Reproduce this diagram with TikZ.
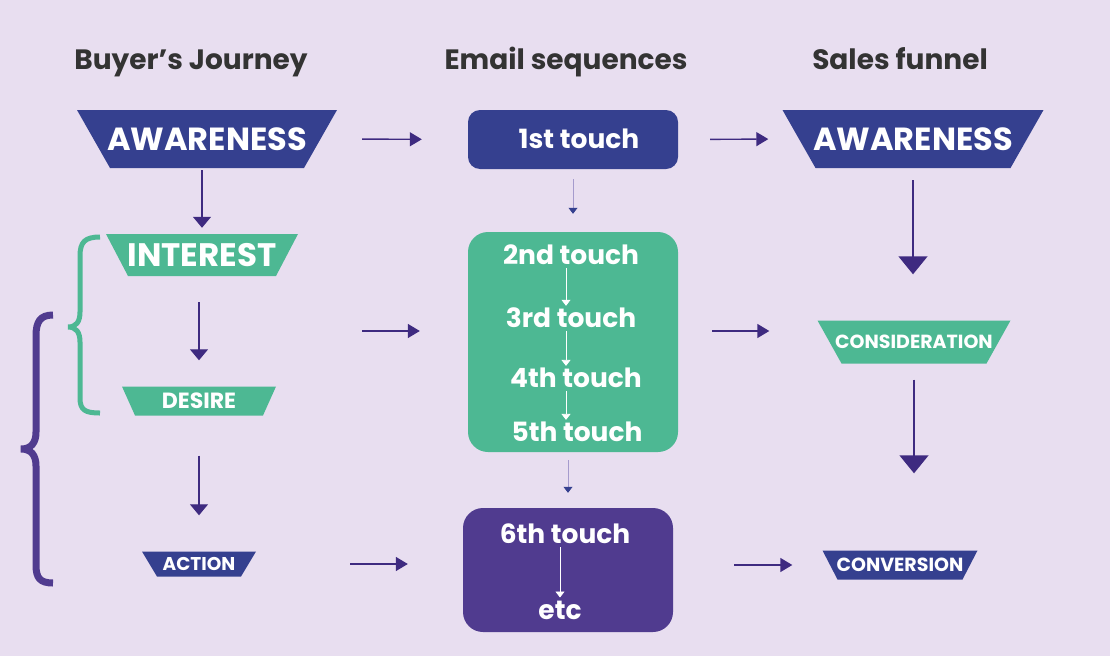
\documentclass[tikz,border=0pt]{standalone}
\usepackage{fontspec}
\setmainfont{Poppins}
\usetikzlibrary{arrows.meta,positioning,calc}

\definecolor{bgpurple}{RGB}{232,222,240}
\definecolor{navy}{RGB}{53,64,143}
\definecolor{mint}{RGB}{77,184,147}
\definecolor{grape}{RGB}{80,59,143}
\definecolor{arrowpurple}{RGB}{62,42,128}
\definecolor{headgray}{RGB}{51,51,51}
\definecolor{thinline}{RGB}{165,155,205}

\begin{document}
\begin{tikzpicture}[
    x=1pt, y=-1pt,
    heading/.style={font=\bfseries\fontsize{28}{30}\selectfont, text=headgray, anchor=base},
    funnel/.style 2 args={inner sep=0pt, text=white,
        path picture={\fill[#1] (path picture bounding box.north west) -- (path picture bounding box.north east)
            -- ([xshift=-#2]path picture bounding box.south east) -- ([xshift=#2]path picture bounding box.south west) -- cycle;}},
    touchbox/.style={rounded corners=20pt, minimum width=210pt, inner sep=0pt},
    touch/.style={text=white, font=\bfseries\fontsize{26.5}{28}\selectfont, inner sep=1pt},
    arrow/.style={-{Triangle[length=12pt,width=14pt]}, line width=1.4pt, draw=arrowpurple},
    downarrow/.style={-{Triangle[length=11pt,width=18pt]}, line width=1.3pt, draw=arrowpurple},
    bigarrow/.style={-{Triangle[length=18pt,width=29pt]}, line width=1.4pt, draw=arrowpurple},
    smallarrow/.style={-{Triangle[length=6pt,width=9pt,color=navy]}, line width=0.8pt, draw=thinline},
    whitearrow/.style={-{Triangle[length=6pt,width=9pt]}, line width=0.8pt, draw=white},
    brace/.style={line width=#1, line cap=butt}
]
    % Background
    \fill[bgpurple] (0,0) rectangle (1110,656);
    \useasboundingbox (0,0) rectangle (1110,656);

    % Headings
    \node[heading] (hbuyer) at (191,69) {Buyer’s Journey};
    \node[heading] (hemail) at (566,69) {Email sequences};
    \node[heading] (hsales) at (900,69) {Sales funnel};

    % Buyer's journey
    \node[funnel={navy}{33pt}, minimum width=260pt, minimum height=58pt,
        font=\bfseries\fontsize{32}{33}\selectfont] (awareL) at (207,139) {AWARENESS};
    \node[funnel={mint}{22pt}, minimum width=192pt, minimum height=42pt,
        font=\bfseries\fontsize{32.5}{33}\selectfont] (interest) at (202,255) {INTEREST};
    \node[funnel={mint}{13pt}, minimum width=154pt, minimum height=29pt,
        font=\bfseries\fontsize{22}{23}\selectfont] (desire) at (199,401) {DESIRE};
    \node[funnel={navy}{15pt}, minimum width=114pt, minimum height=25pt,
        font=\bfseries\fontsize{18.5}{19}\selectfont] (action) at (199,564) {ACTION};

    % Email sequences
    \node[touchbox, fill=navy, rounded corners=12pt, minimum height=59pt] (touch1) at (573,139.5) {};
    \node[touch] (t1) at (579,139) {1st touch};
    \node[touchbox, fill=mint, minimum height=220pt] (touchmid) at (573,342) {};
    \node[touch] (t2) at (571,255) {2nd touch};
    \node[touch] (t3) at (571,318) {3rd touch};
    \node[touch] (t4) at (576,378) {4th touch};
    \node[touch] (t5) at (577,432) {5th touch};
    \node[touchbox, fill=grape, minimum height=124pt] (touchend) at (568,570) {};
    \node[touch] (t6) at (565,534) {6th touch};
    \node[touch] (etc) at (560,610) {etc};

    % Sales funnel
    \node[funnel={navy}{33pt}, minimum width=261pt, minimum height=58pt,
        font=\bfseries\fontsize{32}{33}\selectfont] (awareR) at (913,139) {AWARENESS};
    \node[funnel={mint}{24pt}, minimum width=193pt, minimum height=43pt,
        font=\bfseries\fontsize{19}{20}\selectfont] (consid) at (914,342) {CONSIDERATION};
    \node[funnel={navy}{15pt}, minimum width=155pt, minimum height=29pt,
        font=\bfseries\fontsize{19}{20}\selectfont] (conver) at (900,565) {CONVERSION};

    % Braces
    \draw[brace=5pt, mint] (100,237) .. controls (85,237) and (80,242) .. (80,256) -- (80,312)
        .. controls (80,322) and (76,327) .. (68,327) .. controls (76,327) and (80,332) .. (80,342)
        -- (80,398) .. controls (80,410) and (85,413) .. (100,413);
    \draw[brace=7pt, grape] (53,315) .. controls (40,315) and (36,322) .. (36,336) -- (36,432)
        .. controls (36,443) and (31,449) .. (21,449) .. controls (31,449) and (36,455) .. (36,466)
        -- (36,565) .. controls (36,578) and (40,583) .. (53,583);

    % Arrows down
    \coordinate (midrow) at (0,331);
    \coordinate (touchcol) at (566,0);
    \draw[downarrow, shorten <=2pt, shorten >=6pt] (interest.north |- awareL.south) -- (interest.north);
    \draw[downarrow, shorten <=26pt, shorten >=26pt] (desire.north |- interest.south) -- (desire.north);
    \draw[downarrow, shorten <=40pt, shorten >=36pt] (desire.south) -- (action.north);
    \draw[smallarrow, shorten <=10pt, shorten >=18pt] (touch1.south) -- (touchmid.north);
    \draw[smallarrow, shorten <=8pt, shorten >=15pt] (touchend.north |- touchmid.south) -- (touchend.north);
    \draw[whitearrow, shorten <=2pt, shorten >=1pt] (touchcol |- t2.south) -- (touchcol |- t3.north);
    \draw[whitearrow, shorten <=2pt, shorten >=1pt] (touchcol |- t3.south) -- (touchcol |- t4.north);
    \draw[whitearrow, shorten <=2pt, shorten >=1pt] (touchcol |- t4.south) -- (touchcol |- t5.north);
    \draw[whitearrow, shorten <=2pt, shorten >=2pt] (t6.south -| etc) -- (etc.north);
    \draw[bigarrow, shorten <=12pt, shorten >=46pt] (awareR.south) -- (awareR.south |- consid.north);
    \draw[bigarrow, shorten <=16pt, shorten >=77pt] (consid.south) -- (consid.south |- conver.north);

    % Arrows across
    \draw[arrow, shorten <=25pt, shorten >=46pt] (awareL.east) -- (touch1.west);
    \draw[arrow, shorten <=32pt, shorten >=14pt] (touch1.east) -- (awareR.west);
    \draw[arrow, shorten <=25pt, shorten >=48pt] (awareL.east |- midrow) -- (touchmid.west |- midrow);
    \draw[arrow, shorten <=34pt, shorten >=48pt] (touchmid.east |- midrow) -- (consid.west |- midrow);
    \draw[arrow, shorten <=94pt, shorten >=55pt] (action.east) -- (touchend.west |- action.east);
    \draw[arrow, shorten <=61pt, shorten >=30pt] (touchend.east |- conver.west) -- (conver.west);
\end{tikzpicture}
\end{document}
